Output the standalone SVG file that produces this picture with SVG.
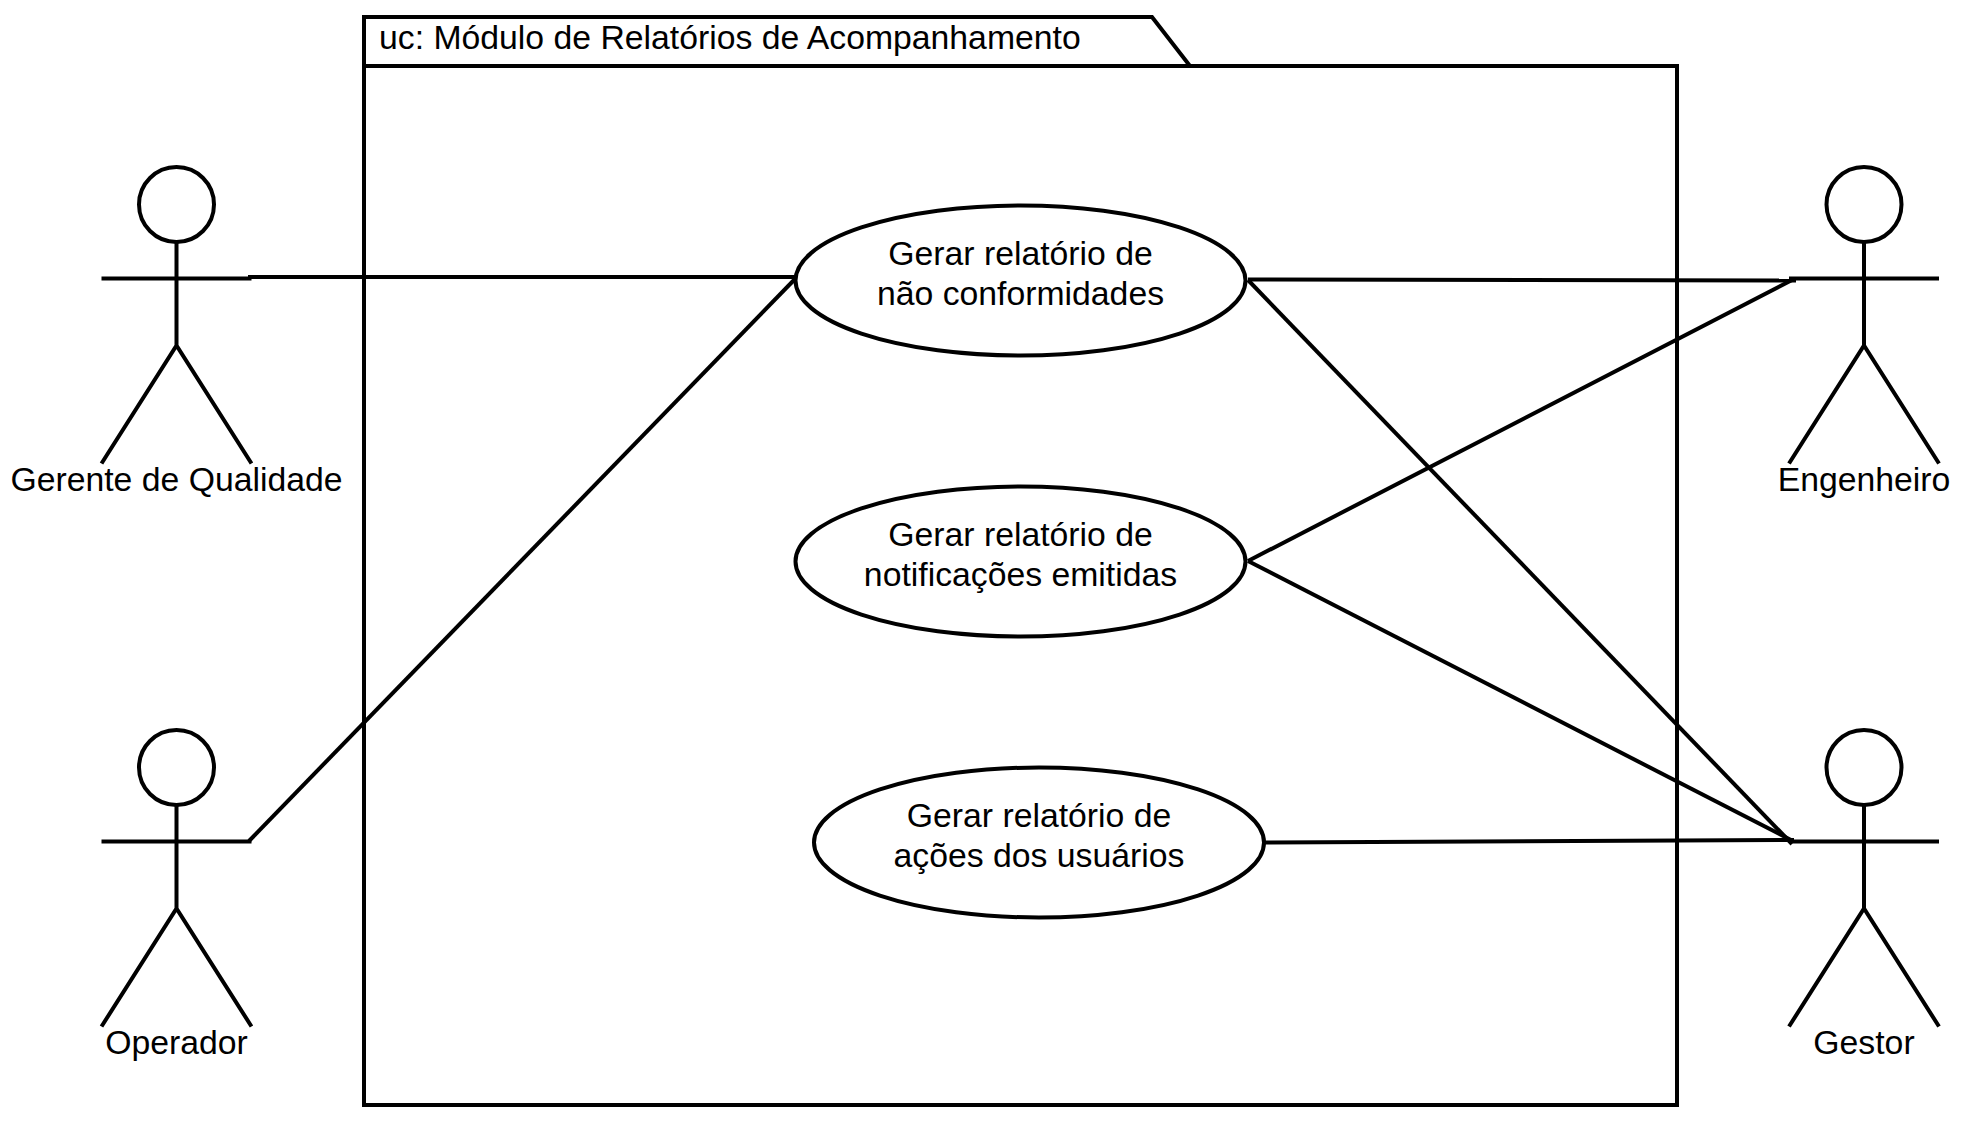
<svg xmlns="http://www.w3.org/2000/svg" width="1968" height="1128" viewBox="0 0 1968 1128">
<defs>
<style>
.s{fill:none;stroke:#000;stroke-width:4}
.e{fill:#fff;stroke:#000;stroke-width:4}
text{font-family:"Liberation Sans",Arial,sans-serif;font-size:33.75px;fill:#000}
.m{text-anchor:middle}
</style>
<g id="stick">
<circle class="s" cx="0" cy="0" r="37.5"/>
<path class="s" d="M0 37.5V141M-75 74H75M-75 259L0 141L75 259"/>
</g>
</defs>
<rect width="1968" height="1128" fill="#fff"/>
<g id="package">
<path class="s" d="M364 66V17H1152L1190 66H1677V1105H364V66H1190"/>
<text x="379" y="48.5">uc: Módulo de Relatórios de Acompanhamento</text>
</g>
<g id="connectors">
<path class="s" d="M248 277H795"/>
<path class="s" d="M249 841L795 279"/>
<path class="s" d="M1248 279.5L1796 280.5"/>
<path class="s" d="M1248 280L1792 844"/>
<path class="s" d="M1248 561L1794 279"/>
<path class="s" d="M1248 561L1791 840"/>
<path class="s" d="M1265 842.5L1794 840"/>
</g>
<g id="uc1">
<ellipse class="e" cx="1020.5" cy="280.5" rx="225" ry="75"/>
<text class="m" x="1020.5" y="265">Gerar relatório de</text>
<text class="m" x="1020.5" y="305">não conformidades</text>
</g>
<g id="uc2">
<ellipse class="e" cx="1020.5" cy="561.5" rx="225" ry="75"/>
<text class="m" x="1020.5" y="546">Gerar relatório de</text>
<text class="m" x="1020.5" y="586">notificações emitidas</text>
</g>
<g id="uc3">
<ellipse class="e" cx="1039" cy="842.5" rx="225" ry="75"/>
<text class="m" x="1039" y="827">Gerar relatório de</text>
<text class="m" x="1039" y="867">ações dos usuários</text>
</g>
<g id="actor-gerente">
<use href="#stick" x="176.5" y="204.5"/>
<text class="m" x="176.5" y="491">Gerente de Qualidade</text>
</g>
<g id="actor-operador">
<use href="#stick" x="176.5" y="767.5"/>
<text class="m" x="176.5" y="1054">Operador</text>
</g>
<g id="actor-engenheiro">
<use href="#stick" x="1864" y="204.5"/>
<text class="m" x="1864" y="491">Engenheiro</text>
</g>
<g id="actor-gestor">
<use href="#stick" x="1864" y="767.5"/>
<text class="m" x="1864" y="1054">Gestor</text>
</g>
</svg>
